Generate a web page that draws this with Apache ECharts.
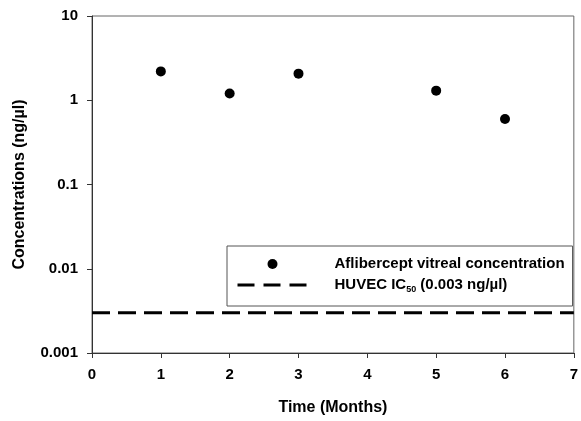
<!DOCTYPE html>
<html>
<head>
<meta charset="utf-8">
<script src="https://cdn.jsdelivr.net/npm/echarts@6/dist/echarts.min.js"></script>
<style>
    html, body { margin: 0; padding: 0; background: #fff; }
    #chart { width: 581px; height: 421px; }
</style>
</head>
<body>
<div id="chart"></div>
<script>
// months and measured vitreous concentrations (ng/µl)
const months = [1, 2, 3, 5, 6];
const concentrations = [2.2, 1.2, 2.07, 1.3, 0.6];
// IC50 reference line
const ic50X = [0, 7];
const ic50Value = 0.003;
const yTickLabels = ['0.001', '0.01', '0.1', '1', '10'];

const fontFam = '"Liberation Sans", Arial, sans-serif';

var chart = echarts.init(document.getElementById('chart'));
var option = {
    animation: false,
    textStyle: { fontFamily: fontFam },
    grid: {
        left: 92,
        right: 3,
        top: 16,
        bottom: 64,
        show: true,
        borderColor: '#666',
        borderWidth: 1
    },
    legend: {
        orient: 'vertical',
        left: 227,
        top: 246,
        padding: [9, 8, 12, 9],
        borderColor: '#555',
        borderWidth: 1,
        itemWidth: 70,
        itemHeight: 10,
        itemGap: 3,
        textStyle: {
            fontFamily: fontFam,
            fontWeight: 'bold',
            fontSize: 15,
            lineHeight: 18,
            color: '#000',
            padding: [0, 0, 0, 22],
            rich: {
                b: { fontFamily: fontFam, fontWeight: 'bold', fontSize: 15, lineHeight: 18, color: '#000' },
                s: { fontFamily: fontFam, fontWeight: 'bold', fontSize: 9, lineHeight: 18, color: '#000', verticalAlign: 'bottom', padding: [7, 0, 0, 0] }
            }
        },
        formatter: function (name) {
            if (name.indexOf('HUVEC') === 0) {
                return '{b|HUVEC IC}{s|50}{b| (0.003 ng/µl)}';
            }
            return name;
        },
        data: [
            { name: 'Aflibercept vitreal concentration', icon: 'circle' },
            {
                name: 'HUVEC IC50',
                itemStyle: { opacity: 0 },
                lineStyle: { color: '#000', width: 3, type: [17, 9] }
            }
        ]
    },
    xAxis: {
        type: 'value',
        min: 0,
        max: 7,
        interval: 1,
        name: 'Time (Months)',
        nameLocation: 'middle',
        nameGap: 47,
        nameTextStyle: { fontWeight: 'bold', fontSize: 16, color: '#000', fontFamily: fontFam },
        axisLine: { lineStyle: { color: '#333', width: 1 } },
        axisTick: { show: true, length: 5, lineStyle: { color: '#333' } },
        axisLabel: { fontFamily: fontFam, fontWeight: 700, fontSize: 15, color: '#000', margin: 14 },
        splitLine: { show: false }
    },
    yAxis: {
        type: 'log',
        logBase: 10,
        min: 0.001,
        max: 10,
        name: 'Concentrations (ng/µl)',
        nameLocation: 'middle',
        nameGap: 64,
        nameTextStyle: { fontWeight: 'bold', fontSize: 16, color: '#000', fontFamily: fontFam },
        axisLine: { show: true, lineStyle: { color: '#333', width: 1 } },
        axisTick: { show: true, length: 5, lineStyle: { color: '#333' } },
        axisLabel: {
            fontFamily: fontFam,
            fontWeight: 700,
            fontSize: 15,
            color: '#000',
            margin: 14,
            formatter: function (v) {
                var k = Math.round(Math.log10(v)) + 3;
                return yTickLabels[k] || '';
            }
        },
        splitLine: { show: false },
        minorTick: { show: false }
    },
    series: [
        {
            name: 'Aflibercept vitreal concentration',
            type: 'scatter',
            symbol: 'circle',
            symbolSize: 10,
            itemStyle: { color: '#000', opacity: 1 },
            data: months.map((m, i) => [m, concentrations[i]])
        },
        {
            name: 'HUVEC IC50',
            type: 'line',
            symbol: 'none',
            lineStyle: { color: '#000', width: 3, type: [18, 8] },
            itemStyle: { color: '#000' },
            data: ic50X.map(x => [x, ic50Value])
        }
    ]
};
chart.setOption(option);
</script>
</body>
</html>
